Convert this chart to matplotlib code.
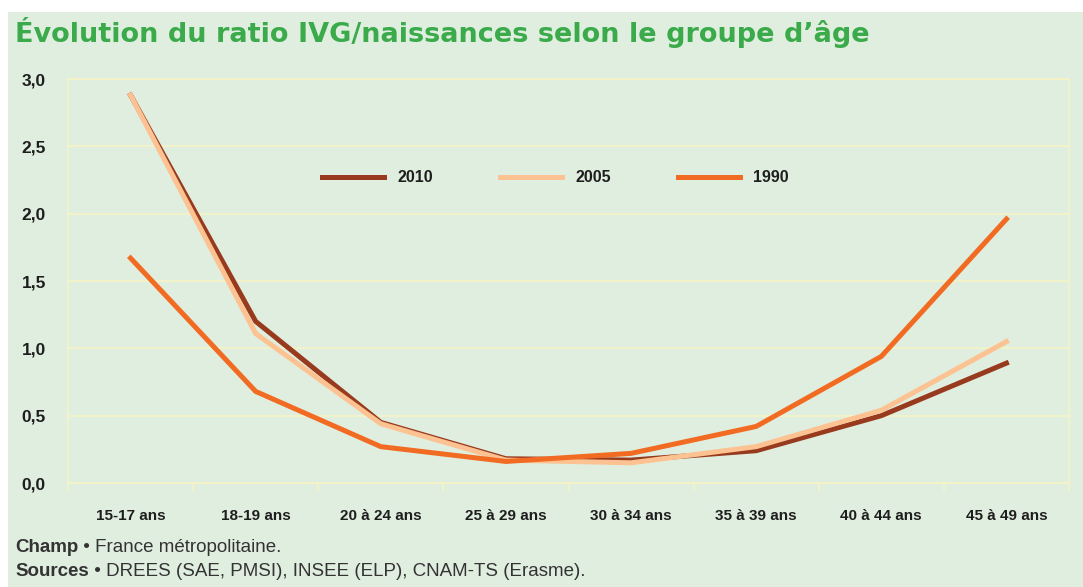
"""Évolution du ratio IVG/naissances selon le groupe d'âge."""
import matplotlib
matplotlib.use("Agg")
import matplotlib.pyplot as plt
from matplotlib.patches import Rectangle

# ---- données ----
age_groups = ["15-17 ans", "18-19 ans", "20 à 24 ans", "25 à 29 ans",
              "30 à 34 ans", "35 à 39 ans", "40 à 44 ans", "45 à 49 ans"]
ratio_2010 = [2.88, 1.20, 0.45, 0.18, 0.17, 0.24, 0.50, 0.89]
ratio_2005 = [2.88, 1.11, 0.44, 0.17, 0.15, 0.27, 0.54, 1.05]
ratio_1990 = [1.67, 0.68, 0.27, 0.16, 0.22, 0.42, 0.94, 1.96]
yticks = [0.0, 0.5, 1.0, 1.5, 2.0, 2.5, 3.0]

BG = "#e0eedf"
GRID = "#f6f3c6"
SANS = ["Liberation Sans", "DejaVu Sans"]

fig = plt.figure(figsize=(10.83, 5.87), dpi=100, facecolor="white")
fig.patches.append(Rectangle((8 / 1083, 0), 1 - 8 / 1083, 1 - 12 / 587,
                             transform=fig.transFigure, facecolor=BG,
                             edgecolor="none", zorder=-10))

ax = fig.add_axes([68 / 1083, 104 / 587, 1001 / 1083, 404 / 587])
ax.set_facecolor(BG)

x = range(len(age_groups))
ax.plot(x, ratio_2010, color="#983a1e", lw=3.6, label="2010",
        solid_joinstyle="miter", zorder=3)
ax.plot(x, ratio_2005, color="#fcc291", lw=3.6, label="2005",
        solid_joinstyle="miter", zorder=4)
ax.plot(x, ratio_1990, color="#f26b22", lw=3.6, label="1990",
        solid_joinstyle="miter", zorder=5)

ax.set_xlim(-0.5, len(age_groups) - 0.5)
ax.set_ylim(0, 3.0)
ax.set_yticks(yticks)
ax.set_yticklabels([f"{v:.1f}".replace(".", ",") for v in yticks],
                   family=SANS, fontweight="bold", fontsize=12.5,
                   color="#1e1e1e")
ax.set_xticks(list(x))
ax.set_xticklabels(age_groups, family=SANS, fontweight="bold",
                   fontsize=11, color="#1e1e1e")
ax.set_xticks([i + 0.5 for i in range(-1, len(age_groups))], minor=True)
ax.tick_params(axis="x", which="major", length=0, pad=19)
ax.tick_params(axis="x", which="minor", length=6, color=GRID, width=1.2)
ax.tick_params(axis="y", length=0, pad=16)
ax.grid(axis="y", color=GRID, lw=1.2, zorder=0)
for s in ax.spines.values():
    s.set_color(GRID)
    s.set_linewidth(1.2)

leg = ax.legend(loc="center", bbox_to_anchor=(0.487, 0.755), ncol=3,
                frameon=False, handlelength=3.9, handletextpad=0.85,
                columnspacing=4.15,
                prop={"family": SANS, "weight": "bold", "size": 11.5})
for t in leg.get_texts():
    t.set_color("#1e1e1e")

fig.text(15 / 1083, 1 - 32 / 587,
         "Évolution du ratio IVG/naissances selon le groupe d’âge",
         fontsize=19.5, fontweight="bold", color="#3aaa4a",
         family="DejaVu Sans", va="center", ha="left")

t1 = fig.text(15 / 1083, 1 - 547 / 587, "Champ", fontsize=13.5,
              family=SANS, fontweight="bold", color="#333333", va="center")
ax.annotate(" • France métropolitaine.", xy=(1, 0.5), xycoords=t1,
            va="center", ha="left", fontsize=13.5, family=SANS,
            color="#333333", annotation_clip=False)
t2 = fig.text(15 / 1083, 1 - 571 / 587, "Sources", fontsize=13.5,
              family=SANS, fontweight="bold", color="#333333", va="center")
ax.annotate(" • DREES (SAE, PMSI), INSEE (ELP), CNAM-TS (Erasme).",
            xy=(1, 0.5), xycoords=t2, va="center", ha="left",
            fontsize=13.5, family=SANS, color="#333333",
            annotation_clip=False)

fig.savefig("out.png", dpi=100, facecolor=fig.get_facecolor())
plt.close(fig)
